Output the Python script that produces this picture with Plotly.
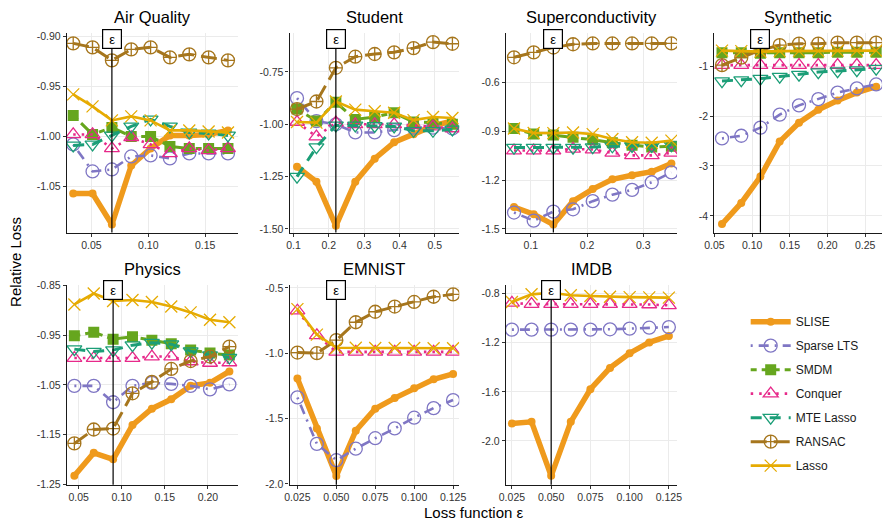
import plotly.graph_objects as go

W, H = 891, 527

METHODS = ["SLISE", "Sparse LTS", "SMDM", "Conquer", "MTE Lasso", "RANSAC", "Lasso"]

# ---------------- Air Quality ----------------
AQ_EPS = 0.068
AQ_X = [0.034, 0.051, 0.068, 0.085, 0.102, 0.119, 0.136, 0.153, 0.170]
AQ_SLISE = [-1.057, -1.057, -1.088, -1.029, -1.012, -0.999, -0.999, -0.998, -0.994]
AQ_SPARSE_LTS = [-1.008, -1.035, -1.033, -1.020, -1.019, -1.022, -1.017, -1.017, -1.017]
AQ_SMDM = [-0.979, -0.998, -0.991, -1.000, -1.000, -1.010, -1.012, -1.012, -1.012]
AQ_CONQUER = [-0.998, -0.998, -1.012, -1.001, -1.008, -1.017, -1.012, -1.014, -1.012]
AQ_MTE_LASSO = [-1.009, -1.008, -0.999, -0.990, -0.983, -0.990, -0.996, -0.997, -0.999]
AQ_RANSAC = [-0.907, -0.911, -0.924, -0.913, -0.911, -0.921, -0.918, -0.921, -0.924]
AQ_LASSO = [-0.958, -0.970, -0.984, -0.980, -0.984, -0.994, -0.994, -0.995, -0.996]
AQ_XTICKS = [0.05, 0.10, 0.15]
AQ_YTICKS = [-1.05, -1.00, -0.95, -0.90]

# ---------------- Student ----------------
ST_EPS = 0.22
ST_X = [0.11, 0.165, 0.22, 0.275, 0.33, 0.385, 0.44, 0.495, 0.55]
ST_SLISE = [-1.203, -1.274, -1.485, -1.274, -1.164, -1.086, -1.047, -1.008, -0.984]
ST_SPARSE_LTS = [-0.875, -0.985, -1.000, -1.039, -1.039, -1.028, -1.016, -1.016, -1.020]
ST_SMDM = [-0.927, -0.984, -0.895, -0.977, -0.965, -0.945, -0.989, -0.992, -1.000]
ST_CONQUER = [-0.989, -1.059, -0.992, -1.000, -1.000, -1.000, -1.005, -1.011, -1.020]
ST_MTE_LASSO = [-1.250, -1.109, -1.005, -1.005, -1.008, -1.010, -1.031, -1.031, -1.024]
ST_RANSAC = [-0.927, -0.891, -0.730, -0.677, -0.664, -0.656, -0.636, -0.607, -0.615]
ST_LASSO = [-0.989, -0.992, -0.891, -0.930, -0.938, -0.945, -0.980, -0.965, -0.970]
ST_XTICKS = [0.1, 0.2, 0.3, 0.4, 0.5]
ST_YTICKS = [-1.50, -1.25, -1.00, -0.75]

# ---------------- Superconductivity ----------------
SC_EPS = 0.14
SC_X = [0.07, 0.105, 0.14, 0.175, 0.21, 0.245, 0.28, 0.315, 0.35]
SC_SLISE = [-1.365, -1.409, -1.473, -1.329, -1.255, -1.195, -1.170, -1.148, -1.098]
SC_SPARSE_LTS = [-1.399, -1.449, -1.393, -1.379, -1.329, -1.289, -1.260, -1.213, -1.152]
SC_SMDM = [-0.883, -0.917, -0.923, -0.937, -0.952, -0.970, -0.985, -0.997, -0.992]
SC_CONQUER = [-1.018, -1.018, -1.018, -1.008, -1.012, -1.032, -1.048, -1.048, -1.032]
SC_MTE_LASSO = [-1.000, -1.000, -1.000, -1.000, -0.997, -0.992, -0.990, -0.990, -0.985]
SC_RANSAC = [-0.445, -0.415, -0.385, -0.365, -0.360, -0.360, -0.360, -0.360, -0.360]
SC_LASSO = [-0.883, -0.910, -0.911, -0.907, -0.917, -0.947, -0.967, -0.970, -0.957]
SC_XTICKS = [0.1, 0.2, 0.3]
SC_YTICKS = [-1.5, -1.2, -0.9, -0.6]

# ---------------- Synthetic ----------------
SY_EPS = 0.111
SY_X = [0.060, 0.0856, 0.111, 0.1366, 0.1622, 0.1878, 0.2134, 0.239, 0.2646]
SY_SLISE = [-4.164, -3.739, -3.213, -2.512, -2.133, -1.872, -1.688, -1.530, -1.413]
SY_SPARSE_LTS = [-2.448, -2.395, -2.232, -1.971, -1.786, -1.662, -1.530, -1.446, -1.367]
SY_SMDM = [-0.73, -0.73, -0.74, -0.73, -0.73, -0.73, -0.72, -0.72, -0.72]
SY_CONQUER = [-0.98, -0.98, -0.98, -0.98, -0.98, -0.98, -0.98, -0.98, -0.98]
SY_MTE_LASSO = [-1.30, -1.28, -1.25, -1.21, -1.17, -1.12, -1.10, -1.08, -1.05]
SY_RANSAC = [-0.98, -0.83, -0.68, -0.58, -0.55, -0.55, -0.53, -0.53, -0.53]
SY_LASSO = [-0.69, -0.70, -0.71, -0.70, -0.70, -0.70, -0.69, -0.69, -0.69]
SY_XTICKS = [0.05, 0.10, 0.15, 0.20, 0.25]
SY_YTICKS = [-4, -3, -2, -1]

# ---------------- Physics ----------------
PH_EPS = 0.09
PH_X = [0.045, 0.0675, 0.09, 0.1125, 0.135, 0.1575, 0.18, 0.2025, 0.225]
PH_SLISE = [-1.233, -1.187, -1.200, -1.131, -1.098, -1.079, -1.052, -1.046, -1.023]
PH_SPARSE_LTS = [-1.052, -1.052, -1.085, -1.052, -1.046, -1.048, -1.052, -1.059, -1.049]
PH_SMDM = [-0.951, -0.944, -0.958, -0.953, -0.960, -0.967, -0.980, -0.986, -0.990]
PH_CONQUER = [-0.996, -0.996, -0.996, -0.996, -0.993, -0.993, -1.003, -1.006, -1.005]
PH_MTE_LASSO = [-0.978, -0.983, -0.980, -0.970, -0.965, -0.968, -0.982, -0.990, -0.995]
PH_RANSAC = [-1.168, -1.140, -1.138, -1.067, -1.044, -1.018, -1.002, -0.993, -0.973]
PH_LASSO = [-0.888, -0.866, -0.881, -0.879, -0.883, -0.892, -0.904, -0.919, -0.924]
PH_XTICKS = [0.05, 0.10, 0.15, 0.20]
PH_YTICKS = [-1.25, -1.15, -1.05, -0.95, -0.85]

# ---------------- EMNIST ----------------
EM_EPS = 0.05
EM_X = [0.025, 0.0375, 0.05, 0.0625, 0.075, 0.0875, 0.1, 0.1125, 0.125]
EM_SLISE = [-1.193, -1.575, -1.938, -1.593, -1.425, -1.343, -1.268, -1.200, -1.158]
EM_SPARSE_LTS = [-1.338, -1.693, -1.818, -1.730, -1.650, -1.575, -1.493, -1.420, -1.358]
EM_CONQUER = [-0.675, -0.863, -0.990, -0.990, -0.990, -0.990, -0.990, -0.990, -0.990]
EM_RANSAC = [-0.995, -1.000, -0.900, -0.763, -0.683, -0.643, -0.608, -0.568, -0.550]
EM_LASSO = [-0.663, -0.858, -0.958, -0.958, -0.960, -0.960, -0.960, -0.962, -0.962]
EM_XTICKS = [0.025, 0.050, 0.075, 0.100, 0.125]
EM_YTICKS = [-2.0, -1.5, -1.0, -0.5]

# ---------------- IMDB ----------------
IM_EPS = 0.05
IM_X = [0.025, 0.0375, 0.05, 0.0625, 0.075, 0.0875, 0.1, 0.1125, 0.125]
IM_SLISE = [-1.859, -1.845, -2.285, -1.845, -1.579, -1.405, -1.285, -1.197, -1.144]
IM_SPARSE_LTS = [-1.093, -1.093, -1.093, -1.093, -1.093, -1.090, -1.085, -1.077, -1.072]
IM_CONQUER = [-0.875, -0.885, -0.885, -0.885, -0.885, -0.885, -0.885, -0.888, -0.895]
IM_LASSO = [-0.867, -0.805, -0.792, -0.813, -0.819, -0.825, -0.828, -0.830, -0.832]
IM_XTICKS = [0.025, 0.050, 0.075, 0.100, 0.125]
IM_YTICKS = [-2.0, -1.6, -1.2, -0.8]

# ---------------- styles ----------------
COLORS = {
    "SLISE": "#EF9A1C",
    "Sparse LTS": "#7F76C4",
    "SMDM": "#66A61E",
    "Conquer": "#E7298A",
    "MTE Lasso": "#1B9E77",
    "RANSAC": "#A6761D",
    "Lasso": "#E6AB02",
}
STYLE = {
    "SLISE": dict(width=5.5, dash="solid", symbol="circle", size=8),
    "Sparse LTS": dict(width=2.6, dash="2px,6px,10px,6px", symbol="circle-open", size=13),
    "SMDM": dict(width=3, dash="6px,5px,18px,5px", symbol="square", size=11),
    "Conquer": dict(width=2.6, dash="2.5px,6px", symbol="triangle-up-open", size=13),
    "MTE Lasso": dict(width=3, dash="11px,8px", symbol="triangle-down-open", size=13),
    "RANSAC": dict(width=3, dash="16px,7px", symbol="circle-cross-open", size=13),
    "Lasso": dict(width=2.6, dash="solid", symbol="x-thin-open", size=12),
}

FONT = "Liberation Sans, Arial, Helvetica, sans-serif"

PANELS = [
    dict(title="Air Quality", x=AQ_X, eps=AQ_EPS,
         data={"SLISE": AQ_SLISE, "Sparse LTS": AQ_SPARSE_LTS, "SMDM": AQ_SMDM, "Conquer": AQ_CONQUER,
               "MTE Lasso": AQ_MTE_LASSO, "RANSAC": AQ_RANSAC, "Lasso": AQ_LASSO},
         box=(58, 232, 29, 232), xr=[0.02845, 0.17845], yr=[-1.0961, -0.8971],
         xt=AQ_XTICKS, yt=AQ_YTICKS, xf="{:.2f}", yf="{:.2f}"),
    dict(title="Student", x=ST_X, eps=ST_EPS,
         data={"SLISE": ST_SLISE, "Sparse LTS": ST_SPARSE_LTS, "SMDM": ST_SMDM, "Conquer": ST_CONQUER,
               "MTE Lasso": ST_MTE_LASSO, "RANSAC": ST_RANSAC, "Lasso": ST_LASSO},
         box=(285, 458, 29, 232), xr=[0.0889, 0.5694], yr=[-1.5175, -0.5658],
         xt=ST_XTICKS, yt=ST_YTICKS, xf="{:.1f}", yf="{:.2f}"),
    dict(title="Superconductivity", x=SC_X, eps=SC_EPS,
         data={"SLISE": SC_SLISE, "Sparse LTS": SC_SPARSE_LTS, "SMDM": SC_SMDM, "Conquer": SC_CONQUER,
               "MTE Lasso": SC_MTE_LASSO, "RANSAC": SC_RANSAC, "Lasso": SC_LASSO},
         box=(505.5, 680, 29, 232), xr=[0.0555, 0.3600], yr=[-1.5222, -0.2986],
         xt=SC_XTICKS, yt=SC_YTICKS, xf="{:.1f}", yf="{:.1f}"),
    dict(title="Synthetic", x=SY_X, eps=SY_EPS,
         data={"SLISE": SY_SLISE, "Sparse LTS": SY_SPARSE_LTS, "SMDM": SY_SMDM, "Conquer": SY_CONQUER,
               "MTE Lasso": SY_MTE_LASSO, "RANSAC": SY_RANSAC, "Lasso": SY_LASSO},
         box=(718, 889, 29, 232), xr=[0.0498, 0.2724], yr=[-4.334, -0.346],
         xt=SY_XTICKS, yt=SY_YTICKS, xf="{:.2f}", yf="{:.0f}"),
    dict(title="Physics", x=PH_X, eps=PH_EPS,
         data={"SLISE": PH_SLISE, "Sparse LTS": PH_SPARSE_LTS, "SMDM": PH_SMDM, "Conquer": PH_CONQUER,
               "MTE Lasso": PH_MTE_LASSO, "RANSAC": PH_RANSAC, "Lasso": PH_LASSO},
         box=(58, 232, 285, 489), xr=[0.03633, 0.2345], yr=[-1.2512, -0.848],
         xt=PH_XTICKS, yt=PH_YTICKS, xf="{:.2f}", yf="{:.2f}"),
    dict(title="EMNIST", x=EM_X, eps=EM_EPS,
         data={"SLISE": EM_SLISE, "Sparse LTS": EM_SPARSE_LTS, "Conquer": EM_CONQUER,
               "RANSAC": EM_RANSAC, "Lasso": EM_LASSO},
         box=(285, 458, 285, 489), xr=[0.01996, 0.12897], yr=[-2.0056, -0.4752],
         xt=EM_XTICKS, yt=EM_YTICKS, xf="{:.3f}", yf="{:.1f}"),
    dict(title="IMDB", x=IM_X, eps=IM_EPS,
         data={"SLISE": IM_SLISE, "Sparse LTS": IM_SPARSE_LTS, "Conquer": IM_CONQUER, "Lasso": IM_LASSO},
         box=(505.5, 680, 285, 489), xr=[0.02113, 0.1302], yr=[-2.3576, -0.7256],
         xt=IM_XTICKS, yt=IM_YTICKS, xf="{:.3f}", yf="{:.1f}"),
]

fig = go.Figure()
layout = dict(
    width=W, height=H, margin=dict(l=0, r=0, t=0, b=0),
    paper_bgcolor="white", plot_bgcolor="white",
    font=dict(family=FONT, color="#1a1a1a"),
    showlegend=True,
    legend=dict(x=750 / W, y=1 - 308 / H, xanchor="left", yanchor="top",
                font=dict(size=12, family=FONT, color="#1a1a1a"),
                itemwidth=40,
                tracegroupgap=5, traceorder="grouped", bgcolor="rgba(0,0,0,0)"),
)
annotations = []
shapes = []
shown = set()

for i, p in enumerate(PANELS):
    n = i + 1
    sfx = "" if n == 1 else str(n)
    xa, ya = "x" + sfx, "y" + sfx
    l, r, t, b = p["box"]
    layout["xaxis" + sfx] = dict(
        domain=[l / W, r / W], range=p["xr"], anchor=ya,
        tickvals=p["xt"], ticktext=[p["xf"].format(v) for v in p["xt"]],
        showgrid=True, gridcolor="#EBEBEB", gridwidth=1, zeroline=False,
        showline=True, linecolor="#1a1a1a", linewidth=1.2,
        ticks="outside", ticklen=3, tickcolor="#333333", tickwidth=1,
        tickfont=dict(size=10.5, color="#333333", family=FONT),
    )
    layout["yaxis" + sfx] = dict(
        domain=[1 - b / H, 1 - t / H], range=p["yr"], anchor=xa,
        tickvals=p["yt"], ticktext=[p["yf"].format(v) for v in p["yt"]],
        showgrid=True, gridcolor="#EBEBEB", gridwidth=1, zeroline=False,
        showline=True, linecolor="#1a1a1a", linewidth=1.2,
        ticks="outside", ticklen=3, tickcolor="#333333", tickwidth=1,
        tickfont=dict(size=10.5, color="#333333", family=FONT),
    )
    for m in METHODS:
        if m not in p["data"]:
            continue
        st = STYLE[m]
        c = COLORS[m]
        open_marker = "open" in st["symbol"]
        fig.add_trace(go.Scatter(
            x=p["x"], y=p["data"][m], xaxis=xa, yaxis=ya,
            mode="lines+markers", name=m, legendgroup=m,
            showlegend=m not in shown,
            line=dict(color=c, width=st["width"], dash=st["dash"]),
            marker=dict(symbol=st["symbol"], size=st["size"], color=c,
                        line=dict(color=c, width=1.3 if open_marker else 0)),
        ))
        shown.add(m)
    shapes.append(dict(type="line", xref=xa, yref=ya + " domain", x0=p["eps"], x1=p["eps"],
                       y0=0, y1=1, line=dict(color="black", width=1.2), layer="above"))
    annotations.append(dict(text="ε", xref=xa, yref=ya + " domain", x=p["eps"], y=1,
                            yshift=-5.5, xanchor="center", yanchor="middle", showarrow=False,
                            font=dict(size=13, color="black", family=FONT),
                            bgcolor="white", bordercolor="black", borderwidth=1.2,
                            borderpad=3, width=12, height=12))
    annotations.append(dict(text=p["title"], xref="paper", yref="paper",
                            x=(l + r) / 2 / W, y=1 - t / H, yshift=5,
                            xanchor="center", yanchor="bottom", showarrow=False,
                            font=dict(size=16.5, color="black", family=FONT)))

annotations.append(dict(text="Relative Loss", xref="paper", yref="paper", x=5 / W, y=1 - 262 / H,
                        textangle=-90, showarrow=False, xanchor="center", yanchor="middle",
                        font=dict(size=15, color="black", family=FONT)))
annotations.append(dict(text="Loss function ε", xref="paper", yref="paper", x=473 / W, y=1 - 517 / H,
                        showarrow=False, xanchor="center", yanchor="middle",
                        font=dict(size=15, color="black", family=FONT)))

layout["annotations"] = annotations
layout["shapes"] = shapes
fig.update_layout(**layout)
fig.write_html("out.html", config={"displayModeBar": False},
               post_script="document.body.style.margin='0';document.body.style.overflow='hidden';")
